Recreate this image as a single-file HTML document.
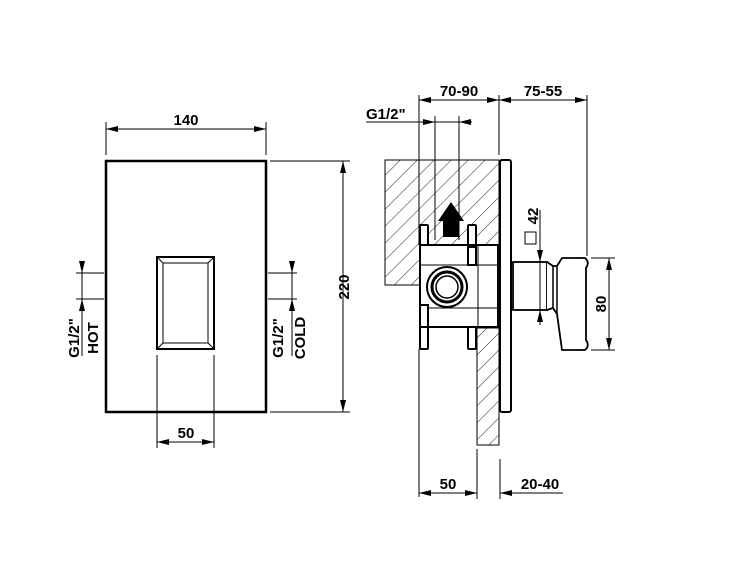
<!DOCTYPE html>
<html><head><style>body{margin:0;background:#fff}svg{display:block}text{font-family:"Liberation Sans",sans-serif;font-weight:bold;font-size:15px;fill:#000}</style></head>
<body>
<svg width="750" height="563" viewBox="0 0 750 563" xmlns="http://www.w3.org/2000/svg">
<defs>
<pattern id="h" patternUnits="userSpaceOnUse" width="12" height="12" patternTransform="rotate(45)"><line x1="0" y1="0" x2="0" y2="12" stroke="#000" stroke-width="0.9"/></pattern>
<marker id="a" markerWidth="12" markerHeight="6" refX="12" refY="3" orient="auto-start-reverse" markerUnits="userSpaceOnUse"><path d="M0,0 L12,3 L0,6 z" fill="#000"/></marker>
</defs>
<g stroke="#000" fill="none">
<!-- left view -->
<rect x="106" y="161" width="160" height="251" stroke-width="2.5"/>
<rect x="157" y="257" width="57" height="92" stroke-width="2"/>
<rect x="163" y="263" width="45" height="80" stroke-width="1"/>
<path d="M157 257 L163 263 M214 257 L208 263 M157 349 L163 343 M214 349 L208 343" stroke-width="1"/>
<g stroke-width="1">
<line x1="106" y1="122" x2="106" y2="155"/><line x1="266" y1="122" x2="266" y2="155"/>
<line x1="106" y1="129" x2="266" y2="129" marker-start="url(#a)" marker-end="url(#a)"/>
<line x1="270" y1="161" x2="350" y2="161"/><line x1="270" y1="412" x2="350" y2="412"/>
<line x1="343" y1="161" x2="343" y2="412" marker-start="url(#a)" marker-end="url(#a)"/>
<line x1="157" y1="355" x2="157" y2="448"/><line x1="214" y1="355" x2="214" y2="448"/>
<line x1="157" y1="442" x2="214" y2="442" marker-start="url(#a)" marker-end="url(#a)"/>
<line x1="76" y1="273" x2="104" y2="273"/><line x1="76" y1="299" x2="104" y2="299"/>
<line x1="82" y1="262" x2="82" y2="273" marker-end="url(#a)"/><line x1="82" y1="310" x2="82" y2="299" marker-end="url(#a)"/>
<line x1="82" y1="273" x2="82" y2="299"/>
<line x1="268" y1="273" x2="297" y2="273"/><line x1="268" y1="299" x2="297" y2="299"/>
<line x1="292" y1="262" x2="292" y2="273" marker-end="url(#a)"/><line x1="292" y1="310" x2="292" y2="299" marker-end="url(#a)"/>
<line x1="292" y1="273" x2="292" y2="299"/>
<line x1="82" y1="310" x2="82" y2="356"/><line x1="292" y1="310" x2="292" y2="356"/>
</g>
<!-- right view -->
<rect x="385" y="160" width="114" height="125" fill="url(#h)" stroke-width="1"/>
<rect x="477" y="328" width="22" height="117" fill="url(#h)" stroke-width="1"/>
<rect x="420" y="245" width="78" height="82" fill="#fff" stroke-width="2"/>
<line x1="420" y1="265" x2="498" y2="265" stroke-width="1"/><line x1="420" y1="308" x2="498" y2="308" stroke-width="1"/>
<line x1="478" y1="245" x2="478" y2="327" stroke-width="1"/>
<g fill="#fff" stroke-width="2">
<rect x="420" y="225" width="8" height="20" rx="1"/><rect x="468" y="225" width="8" height="20" rx="1"/>
<rect x="420" y="327" width="8" height="22" rx="1"/><rect x="468" y="327" width="8" height="22" rx="1"/>
<rect x="420" y="305" width="8" height="22"/><rect x="468" y="247" width="8" height="18"/>
<circle cx="447" cy="287" r="20"/></g>
<circle cx="447" cy="287" r="15" stroke-width="3"/><circle cx="447" cy="287" r="11" stroke-width="1.5"/>
<rect x="500" y="160" width="11" height="252" rx="2" fill="#fff" stroke-width="2"/>
<rect x="513" y="262" width="34" height="48" fill="#fff" stroke-width="1.8"/>
<path d="M547 262 L553 266 L557 266 L562 258 L578 258 L578 350 L562 350 L557 314 L553 308 L547 310" fill="#fff" stroke-width="1.8"/>
<path d="M553 266 L553 308 M557 266 L557 314" stroke-width="1.5"/>
<path d="M577 258 L585 258 Q590 262 586 268 L586 340 Q590 346 585 350 L577 350" fill="#fff" stroke-width="1.8"/>
<path d="M443 237 L443 221 L438 221 L451 202 L464 221 L459 221 L459 237 z" fill="#000" stroke="none"/>
<g stroke-width="1">
<line x1="419" y1="95" x2="419" y2="245"/><line x1="419" y1="349" x2="419" y2="497"/>
<line x1="499" y1="95" x2="499" y2="155"/><line x1="587" y1="95" x2="587" y2="256"/>
<line x1="419" y1="100" x2="499" y2="100" marker-start="url(#a)" marker-end="url(#a)"/>
<line x1="499" y1="100" x2="587" y2="100" marker-start="url(#a)" marker-end="url(#a)"/>
<line x1="366" y1="122" x2="472" y2="122"/>
<line x1="420" y1="122" x2="435" y2="122" marker-end="url(#a)"/><line x1="472" y1="122" x2="459" y2="122" marker-end="url(#a)"/>
<line x1="435" y1="116" x2="435" y2="240"/><line x1="459" y1="116" x2="459" y2="240"/>
<line x1="591" y1="258" x2="615" y2="258"/><line x1="591" y1="350" x2="615" y2="350"/>
<line x1="609" y1="258" x2="609" y2="350" marker-start="url(#a)" marker-end="url(#a)"/>
<line x1="540" y1="210" x2="540" y2="262" marker-end="url(#a)"/><line x1="540" y1="325" x2="540" y2="310" marker-end="url(#a)"/>
<line x1="540" y1="262" x2="540" y2="310"/>
<rect x="525" y="232" width="11" height="12"/>
<line x1="477" y1="449" x2="477" y2="499"/><line x1="500" y1="459" x2="500" y2="499"/>
<line x1="419" y1="493" x2="477" y2="493" marker-start="url(#a)" marker-end="url(#a)"/>
<line x1="563" y1="493" x2="500" y2="493" marker-end="url(#a)"/>
</g>
</g>
<text x="186" y="125" text-anchor="middle">140</text>
<text x="186" y="438" text-anchor="middle">50</text>
<text transform="translate(349,287) rotate(-90)" text-anchor="middle">220</text>
<text transform="translate(79,338) rotate(-90)" text-anchor="middle">G1/2"</text>
<text transform="translate(98,338) rotate(-90)" text-anchor="middle">HOT</text>
<text transform="translate(283,338) rotate(-90)" text-anchor="middle">G1/2"</text>
<text transform="translate(305,338) rotate(-90)" text-anchor="middle">COLD</text>
<text x="459" y="96" text-anchor="middle">70-90</text>
<text x="543" y="96" text-anchor="middle">75-55</text>
<text x="366" y="119">G1/2"</text>
<text transform="translate(538,216) rotate(-90)" text-anchor="middle">42</text>
<text transform="translate(606,304) rotate(-90)" text-anchor="middle">80</text>
<text x="448" y="489" text-anchor="middle">50</text>
<text x="540" y="489" text-anchor="middle">20-40</text>
</svg>
</body></html>
